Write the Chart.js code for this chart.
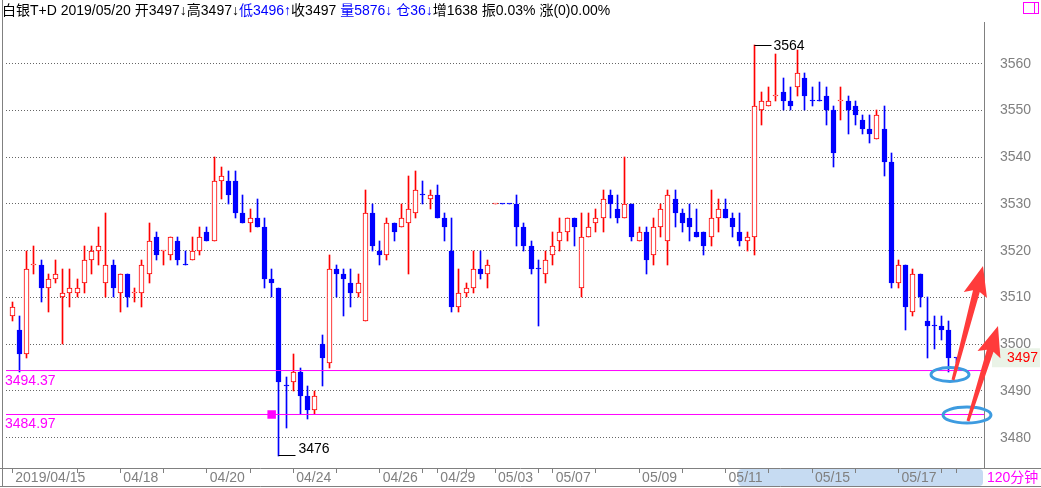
<!DOCTYPE html>
<html>
<head>
<meta charset="utf-8">
<script src="https://cdn.jsdelivr.net/npm/chart.js@4/dist/chart.umd.min.js"></script>
<style>
  html, body { margin: 0; padding: 0; background: #fff; }
  #wrap { width: 1041px; height: 488px; }
</style>
</head>
<body>
<div id="wrap"><canvas id="kline" width="1041" height="488"></canvas></div>
<script>
// 白银T+D, 120 minute bars, 2019/04/15 - 2019/05/20
const openP = [
  3506,3503,3498,3517,3517,3512,3514,3510,3511,3511,
  3513,3518,3520,3513,3517,3511,3515,3511,3511,3515,
  3523,3520,3519,3522,3517,3518,3520,3524,3522,3535,
  3535,3535,3528,3526,3527,3525,3514,3512,3491,3492,
  3494,3489,3486,3500,3496,3516,3515,3513,3511,3505,
  3528,3520,3519,3526,3525,3526,3528,3532,3531,3532,
  3527,3520,3508,3511,3512,3516,3515,3530,3530,3530,
  3530,3525,3521,3516,3515,3519,3522,3524,3527,3512,
  3523,3526,3527,3532,3529,3527,3530,3522,3524,3519,
  3525,3522,3531,3528,3527,3524,3524,3523,3527,3529,
  3527,3524,3522,3523,3550,3551,3553,3554,3552,3555,
  3557,3552,3552,3553,3550,3552,3552,3551,3548,3546,
  3544,3546,3539,3513,3517,3507,3515,3505,3504,3504,
  3503,3497
];
const highP = [
  3509,3506,3520,3521,3518,3515,3518,3516,3516,3514,
  3521,3521,3525,3528,3518,3515,3515,3512,3518,3526,
  3524,3520,3523,3523,3520,3523,3525,3525,3540,3538,
  3537,3537,3532,3529,3531,3527,3516,3512,3493,3498,
  3495,3491,3490,3502,3519,3517,3516,3516,3515,3533,
  3530,3522,3527,3526,3530,3536,3537,3535,3533,3534,
  3528,3527,3516,3513,3520,3520,3518,3530,3530,3530,
  3532,3526,3522,3518,3520,3524,3527,3527,3527,3528,
  3528,3529,3533,3533,3532,3540,3530,3525,3525,3527,
  3530,3533,3533,3529,3530,3529,3524,3533,3531,3531,
  3528,3528,3524,3564,3554,3555,3562,3557,3555,3563,
  3558,3555,3556,3555,3551,3555,3553,3552,3549,3549,
  3550,3551,3541,3518,3517,3516,3515,3510,3506,3506,
  3505,3497
];
const lowP = [
  3505,3494,3497,3515,3509,3507,3513,3500,3508,3510,
  3511,3515,3517,3510,3510,3507,3508,3509,3508,3513,
  3518,3517,3518,3517,3517,3518,3519,3522,3522,3531,
  3530,3527,3526,3524,3525,3512,3510,3476,3482,3490,
  3485,3484,3485,3491,3495,3510,3506,3508,3510,3505,
  3520,3517,3518,3522,3525,3515,3527,3530,3529,3527,
  3522,3507,3507,3510,3511,3514,3512,3530,3530,3530,
  3521,3520,3515,3504,3513,3517,3520,3522,3521,3510,
  3523,3524,3524,3527,3526,3527,3522,3522,3515,3517,
  3523,3517,3525,3524,3522,3523,3519,3521,3524,3527,
  3523,3521,3520,3519,3547,3551,3552,3550,3550,3553,
  3550,3551,3552,3547,3538,3548,3545,3547,3545,3543,
  3544,3536,3512,3512,3503,3506,3508,3497,3499,3501,
  3494,3496
];
const closeP = [
  3508,3498,3516,3517,3512,3514,3515,3511,3512,3512,
  3518,3520,3521,3517,3512,3515,3510,3511,3517,3522,
  3519,3520,3523,3518,3517,3520,3523,3522,3535,3536,
  3532,3528,3526,3527,3525,3514,3513,3492,3491,3494,
  3489,3486,3489,3497,3516,3515,3514,3511,3513,3528,
  3521,3519,3526,3524,3527,3529,3533,3532,3532,3527,
  3525,3508,3511,3512,3516,3515,3517,3530,3530,3530,
  3525,3521,3516,3516,3518,3521,3524,3527,3525,3523,
  3525,3527,3531,3530,3527,3530,3523,3524,3518,3525,
  3529,3532,3528,3526,3525,3523,3521,3527,3529,3527,
  3525,3522,3523,3551,3552,3552,3553,3552,3551,3558,
  3553,3552,3552,3550,3541,3552,3550,3549,3546,3545,
  3549,3539,3513,3517,3508,3515,3510,3504,3504,3503,
  3497,3497
];

const priceTicks = [3480, 3490, 3500, 3510, 3520, 3530, 3540, 3550, 3560];
const dateTicks  = [0, 9, 15, 21, 27, 33, 39, 45, 51, 57, 59, 63, 67, 73, 75, 81, 87, 93, 99, 105, 111, 117, 123, 129, 131];
const dateLabels = ['2019/04/15', '', '04/18', '', '04/20', '', '04/24', '', '04/26', '', '04/29', '', '05/03', '',
                    '05/07', '', '05/09', '', '05/11', '', '05/15', '', '05/17', '', ''];
const levelLines = [3494.37, 3484.97];
const markIndex = 36;

const X_MIN = -0.872, X_MAX = 134.87;
const Y_MIN = 3473.526, Y_MAX = 3568.926;
const RED = '#ff0000', BLUE = '#0000ff', MAGENTA = '#ff00ff', GRAY = '#808080';
const FONT = "'Liberation Sans', 'Noto Sans CJK SC', sans-serif";

const isUp = closeP.map((c, i) => c > openP[i] || (c === openP[i] && i > 0 && c > closeP[i - 1]));
const candleColor = isUp.map(u => u ? RED : BLUE);
const bodyFill = isUp.map(u => u ? '#ffffff' : BLUE);

const wickData = highP.map((h, i) => ({ x: i, y: [lowP[i], h] }));
const bodyData = openP.map((o, i) => ({ x: i, y: [o, closeP[i]] }));

function roundRect(ctx, x, y, w, h, r) {
  ctx.beginPath();
  ctx.moveTo(x + r, y);
  ctx.lineTo(x + w - r, y);
  ctx.quadraticCurveTo(x + w, y, x + w, y + r);
  ctx.lineTo(x + w, y + h - r);
  ctx.quadraticCurveTo(x + w, y + h, x + w - r, y + h);
  ctx.lineTo(x + r, y + h);
  ctx.quadraticCurveTo(x, y + h, x, y + h - r);
  ctx.lineTo(x, y + r);
  ctx.quadraticCurveTo(x, y, x + r, y);
  ctx.closePath();
}

function arrow(ctx, x0, y0, x1, y1, w0, w1, hl, hw) {
  const dx = x1 - x0, dy = y1 - y0, L = Math.hypot(dx, dy);
  const ux = dx / L, uy = dy / L, nx = -uy, ny = ux;
  const bx = x1 - ux * hl, by = y1 - uy * hl;
  ctx.beginPath();
  ctx.moveTo(x0 + nx * w0 / 2, y0 + ny * w0 / 2);
  ctx.lineTo(bx + nx * w1 / 2, by + ny * w1 / 2);
  ctx.lineTo(bx + nx * hw / 2 - ux * 4, by + ny * hw / 2 - uy * 4);
  ctx.lineTo(x1, y1);
  ctx.lineTo(bx - nx * hw / 2 - ux * 4, by - ny * hw / 2 - uy * 4);
  ctx.lineTo(bx - nx * w1 / 2, by - ny * w1 / 2);
  ctx.lineTo(x0 - nx * w0 / 2, y0 - ny * w0 / 2);
  ctx.closePath();
  ctx.fill();
}

// keep candle edges on whole pixels so they stay crisp
const snap = {
  id: 'snap',
  beforeDatasetsDraw(chart) {
    [0, 1].forEach(di => {
      chart.getDatasetMeta(di).data.forEach(el => {
        el.x = Math.floor(el.x) + 0.5;
        el.y = Math.round(el.y);
        el.base = Math.round(el.base);
      });
    });
  }
};

const decor = {
  id: 'decor',
  beforeDraw(chart) {
    const ctx = chart.ctx;
    ctx.save();
    ctx.fillStyle = '#fff';
    ctx.fillRect(0, 0, chart.width, chart.height);
    // highlighted period in the time strip
    ctx.fillStyle = '#c6dbf2';
    roundRect(ctx, 738, 469, 245, 17, 4);
    ctx.fill();
    ctx.restore();
  },
  afterDraw(chart) {
    const ctx = chart.ctx;
    const xs = chart.scales.x, ys = chart.scales.y;
    ctx.save();

    // frame
    ctx.strokeStyle = GRAY;
    ctx.lineWidth = 1;
    ctx.beginPath();
    ctx.moveTo(2.5, 0); ctx.lineTo(2.5, 487);
    ctx.moveTo(0, 468.5); ctx.lineTo(1041, 468.5);
    ctx.moveTo(0, 486.5); ctx.lineTo(1041, 486.5);
    ctx.stroke();

    // header
    const parts = [
      ['白银T+D 2019/05/20 开3497↓高3497↓', '#000'],
      ['低3496↑', BLUE],
      ['收3497 ', '#000'],
      ['量5876↓ 仓36↓', BLUE],
      ['增1638 振0.03% 涨(0)0.00%', '#000']
    ];
    ctx.font = '14px ' + FONT;
    ctx.textBaseline = 'middle';
    ctx.textAlign = 'left';
    let hx = 2;
    parts.forEach(([t, c]) => {
      ctx.fillStyle = c;
      ctx.fillText(t, hx, 11);
      hx += ctx.measureText(t).width;
    });

    // top right box
    ctx.strokeStyle = MAGENTA;
    ctx.strokeRect(1023.5, 2.5, 15, 11);
    ctx.beginPath(); ctx.moveTo(1034.5, 2.5); ctx.lineTo(1034.5, 13.5); ctx.stroke();

    // level labels
    ctx.fillStyle = MAGENTA;
    ctx.textBaseline = 'alphabetic';
    levelLines.forEach(v => {
      ctx.fillText(v.toFixed(2), 5, ys.getPixelForValue(v) + 14);
    });

    // highest / lowest marks
    const hiIdx = highP.indexOf(Math.max(...highP));
    const loIdx = lowP.indexOf(Math.min(...lowP));
    ctx.strokeStyle = '#000';
    ctx.fillStyle = '#000';
    let px = Math.floor(xs.getPixelForValue(hiIdx)) + 0.5, py = Math.round(ys.getPixelForValue(highP[hiIdx])) + 0.5;
    ctx.beginPath(); ctx.moveTo(px, py); ctx.lineTo(px + 17, py); ctx.stroke();
    ctx.textBaseline = 'middle';
    ctx.fillText(String(highP[hiIdx]), px + 19, py + 1);
    px = Math.floor(xs.getPixelForValue(loIdx)) + 0.5; py = Math.round(ys.getPixelForValue(lowP[loIdx])) - 0.5;
    ctx.beginPath(); ctx.moveTo(px, py); ctx.lineTo(px + 17, py); ctx.stroke();
    ctx.textBaseline = 'alphabetic';
    ctx.fillText(String(lowP[loIdx]), px + 20, py - 2.5);

    // last price on the axis
    const last = closeP[closeP.length - 1];
    const ly = ys.getPixelForValue(last);
    ctx.fillStyle = '#eaf3e7';
    ctx.fillRect(992, ly - 10, 48, 19);
    ctx.fillStyle = RED;
    ctx.textBaseline = 'middle';
    ctx.fillText(String(last), 1007, ly);

    // period label
    ctx.fillStyle = MAGENTA;
    ctx.fillText('120分钟', 987, 478);

    // hand-drawn marks
    ctx.strokeStyle = '#3d9be0';
    ctx.lineWidth = 3;
    ctx.beginPath(); ctx.ellipse(950, 374.5, 19, 7, 0, 0, Math.PI * 2); ctx.stroke();
    ctx.beginPath(); ctx.ellipse(967, 415, 24, 8, 0, 0, Math.PI * 2); ctx.stroke();
    ctx.fillStyle = '#ff3b3b';
    arrow(ctx, 953, 380, 983, 266, 3, 7, 26, 24);
    arrow(ctx, 968, 421, 998, 326, 3, 7, 26, 24);

    ctx.restore();
  }
};

new Chart(document.getElementById('kline'), {
  type: 'bar',
  data: {
    datasets: [
      {
        label: 'wick', data: wickData, order: 3, grouped: false,
        backgroundColor: candleColor, borderWidth: 0, barThickness: 1
      },
      {
        label: 'body', data: bodyData, order: 2, grouped: false,
        backgroundColor: bodyFill, borderColor: candleColor, borderWidth: 1,
        borderSkipped: false, barThickness: 5, minBarLength: 1
      },
      ...levelLines.map(v => ({
        type: 'line', label: String(v), order: 1,
        data: [{ x: X_MIN, y: v }, { x: X_MAX, y: v }],
        borderColor: MAGENTA, borderWidth: 1, pointRadius: 0
      })),
      {
        type: 'scatter', label: 'mark', order: 0,
        data: [{ x: markIndex, y: levelLines[1] }],
        pointStyle: 'rect', pointRadius: 6, backgroundColor: MAGENTA, borderWidth: 0
      }
    ]
  },
  options: {
    responsive: false,
    animation: false,
    devicePixelRatio: 1,
    events: [],
    layout: { padding: { left: 3, top: 22, right: 0, bottom: 0 } },
    plugins: { legend: { display: false }, tooltip: { enabled: false } },
    scales: {
      x: {
        type: 'linear', position: 'bottom', min: X_MIN, max: X_MAX, offset: false,
        afterFit: s => { s.height = 20; s.paddingLeft = 0; s.paddingRight = 0; s.paddingTop = 0; s.paddingBottom = 0; },
        afterBuildTicks: s => { s.ticks = dateTicks.map(v => ({ value: v })); },
        ticks: {
          autoSkip: false, maxRotation: 0, minRotation: 0, align: 'start', labelOffset: 3, padding: -2,
          color: GRAY, font: { family: FONT, size: 14, lineHeight: 1 },
          callback: (v, i) => dateLabels[i]
        },
        grid: { drawOnChartArea: false, drawTicks: true, tickLength: 5, tickColor: GRAY, offset: false },
        border: { display: false }
      },
      y: {
        type: 'linear', position: 'right', min: Y_MIN, max: Y_MAX,
        afterFit: s => { s.width = 57; s.paddingLeft = 0; s.paddingRight = 0; s.paddingTop = 0; s.paddingBottom = 0; },
        afterBuildTicks: s => { s.ticks = priceTicks.map(v => ({ value: v })); },
        ticks: { padding: 16, color: GRAY, font: { family: FONT, size: 14 }, callback: v => String(v) },
        grid: { color: '#666666', drawTicks: false, lineWidth: 1 },
        border: { display: true, color: GRAY, dash: [1, 2] }
      }
    }
  },
  plugins: [snap, decor]
});
</script>
</body>
</html>
